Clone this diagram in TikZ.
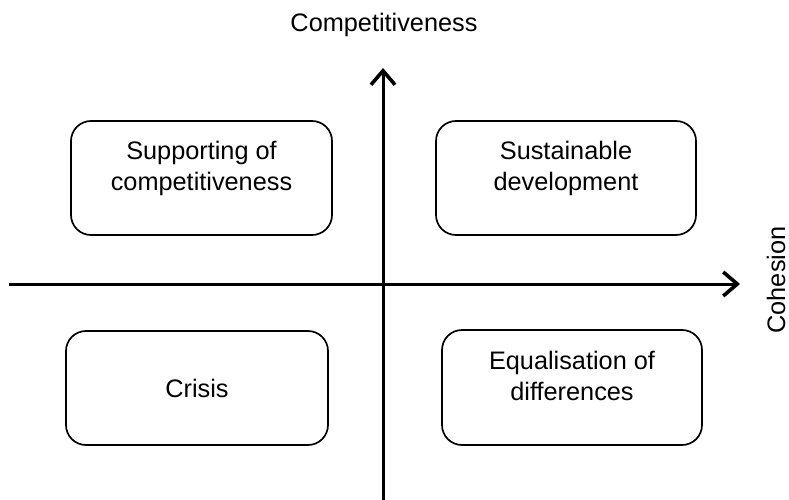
\documentclass[tikz,border=0pt]{standalone}
\usepackage{fontspec}
\setmainfont{Liberation Sans}
\usetikzlibrary{arrows.meta}
\begin{document}
\begin{tikzpicture}[x=1pt,y=-1pt,
  quad/.style={draw, line width=1.7pt, rounded corners=20pt},
  lbl/.style={font=\fontsize{25.3}{31}\selectfont, align=center, inner sep=0pt},
  axis/.style={line width=3pt, -{Straight Barb[length=14pt,width=24pt,line width=3.6pt]}}]
\useasboundingbox (0,0) rectangle (789,500);
\draw[quad] (71,121) rectangle (332,235);
\draw[quad] (436,121) rectangle (696,235);
\draw[quad] (66,331) rectangle (328,445);
\draw[quad] (442,330) rectangle (702,445);
\node[lbl] (tl) at (201.5,168) {Supporting of\\competitiveness};
\node[lbl] (tr) at (566,168) {Sustainable\\development};
\node[lbl] (bl) at (197,388) {Crisis};
\node[lbl] (br) at (572,376) {Equalisation of\\differences};
\coordinate (xs) at (9,284);
\coordinate (xe) at (740,284);
\coordinate (ys) at (383,500);
\coordinate (ye) at (383,68);
\draw[axis] (xs) -- (xe);
\draw[axis] (ys) -- (ye);
\node[lbl] (yl) at (384,25) {Competitiveness};
\node[lbl, rotate=90] (xl) at (776,280) {Cohesion};
\end{tikzpicture}
\end{document}
